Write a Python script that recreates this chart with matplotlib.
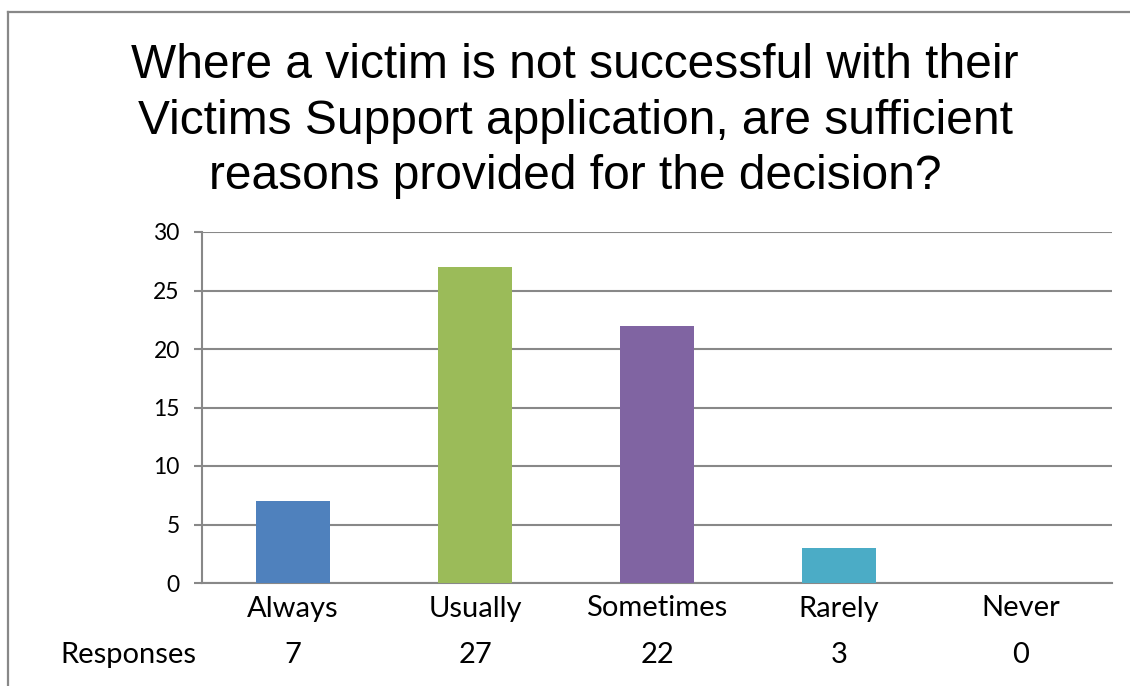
import matplotlib
matplotlib.use('Agg')
import matplotlib.pyplot as plt
from matplotlib.lines import Line2D
from matplotlib.transforms import blended_transform_factory

# survey answers and counts
categories = ['Always', 'Usually', 'Sometimes', 'Rarely', 'Never']
responses = [7, 27, 22, 3, 0]
bar_colors = ['#4F81BD', '#9BBB59', '#8064A2', '#4BACC6', '#F79646']
yticks = [0, 5, 10, 15, 20, 25, 30]
title = ('Where a victim is not successful with their\n'
         'Victims Support application, are sufficient\n'
         'reasons provided for the decision?')

body_font = 'Lato'
grid_col = '#888888'

fig = plt.figure(figsize=(11.3, 6.86), dpi=100, facecolor='white')

# chart frame (left and top edges only)
fig.add_artist(Line2D([8 / 1130, 8 / 1130], [0, 1 - 12 / 686], color=grid_col, lw=1.6))
fig.add_artist(Line2D([8 / 1130, 1], [1 - 12 / 686, 1 - 12 / 686], color=grid_col, lw=1.6))

fig.text(0.509, 1 - 121 / 686, title, ha='center', va='center',
         fontsize=34.5, family='Liberation Sans', linespacing=1.3)

ax = fig.add_axes([202 / 1130, 1 - 583 / 686, 910 / 1130, 351 / 686])
x = range(len(categories))
ax.bar(x, responses, width=0.41, color=bar_colors, zorder=3)

ax.set_xlim(-0.5, len(categories) - 0.5)
ax.set_ylim(0, 30)
ax.set_yticks(yticks)
ax.set_yticklabels([str(v) for v in yticks], family=body_font, fontsize=16.5)
ax.set_xticks(list(x))
ax.set_xticklabels(categories, family=body_font, fontsize=21)
ax.tick_params(axis='x', length=0, pad=9)
ax.tick_params(axis='y', length=6, width=1.5, color=grid_col, pad=10)
ax.yaxis.grid(True, color=grid_col, lw=1.5, zorder=0)
for side in ['top', 'right']:
    ax.spines[side].set_visible(False)
for side in ['left', 'bottom']:
    ax.spines[side].set_color(grid_col)
    ax.spines[side].set_linewidth(1.5)

# data table row under the category labels
tr = blended_transform_factory(ax.transData, fig.transFigure)
for i, v in enumerate(responses):
    ax.text(i, 1 - 655 / 686, str(v), transform=tr, ha='center', va='center',
            family=body_font, fontsize=21)
fig.text(60 / 1130, 1 - 655 / 686, 'Responses', ha='left', va='center',
         family=body_font, fontsize=21)

fig.savefig('out.png', dpi=100, facecolor='white')
